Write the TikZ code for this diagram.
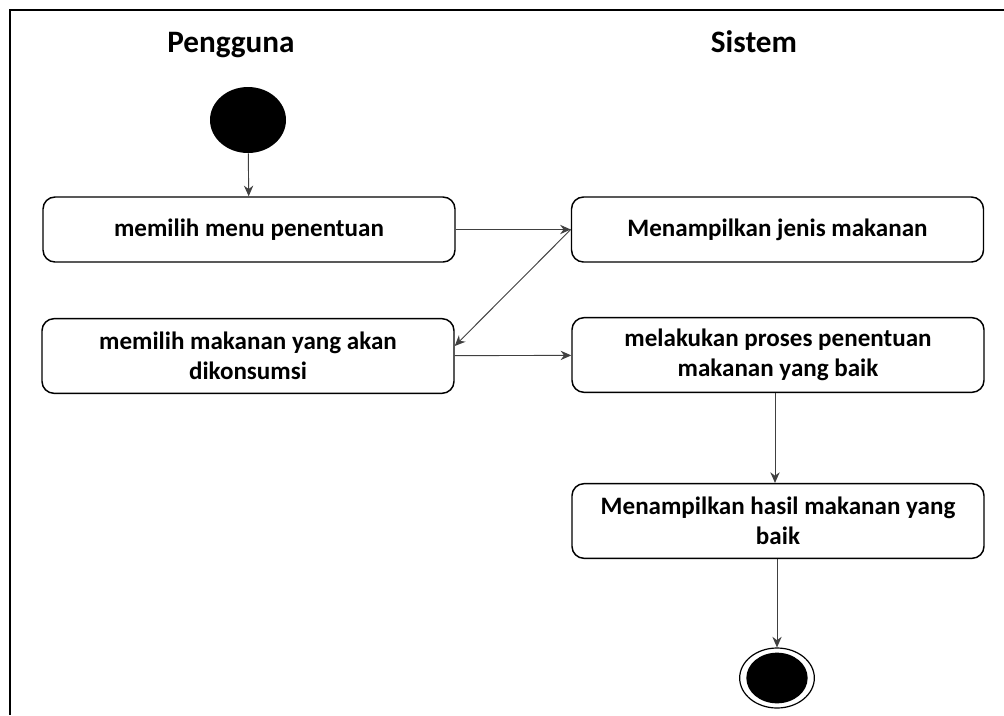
\documentclass[tikz,border=0pt]{standalone}
\usepackage{fontspec}
\setmainfont{Carlito}
\usetikzlibrary{arrows.meta,calc,shapes.geometric}
\begin{document}
\begin{tikzpicture}[x=0.75pt,y=-0.75pt,
  lane/.style={font=\fontsize{23.4}{28}\selectfont\bfseries, inner sep=0pt, anchor=base},
  act/.style={draw, line width=1.1pt, rounded corners=9pt, align=center,
    minimum width=309pt, inner sep=0pt,
    font=\fontsize{18.8}{22.5}\selectfont\bfseries},
  oneline/.style={act, minimum height=48.75pt},
  twoline/.style={act, minimum height=56pt},
  initial/.style={ellipse, fill=black, minimum width=57pt, minimum height=49.5pt, inner sep=0pt},
  finalring/.style={ellipse, draw, line width=0.9pt, minimum width=56pt, minimum height=45pt, inner sep=0pt},
  finalcore/.style={ellipse, fill=black, minimum width=46pt, minimum height=38pt, inner sep=0pt},
  flow/.style={draw=black!75, line width=0.7pt, -{Stealth[length=8pt,width=7pt]}}]
\useasboundingbox (0,0) rectangle (1004,715);

% frame of the swimlane diagram
\draw[line width=2pt] (1004,10) -- (10,10) -- (10,715);

% lane headings
\node[lane] (pengguna) at (231,52) {Pengguna};
\node[lane] (sistem) at (754,52) {Sistem};

% initial and final states
\node[initial] (start) at (248,120) {};
\node[finalring] (stop) at (777,678) {};
\node[finalcore] (stopcore) at (777,678) {};

% actions
\node[oneline] (a1) at (249,229.5) {memilih menu penentuan};
\node[twoline] (a2) at (248,356) {memilih makanan yang akan\\dikonsumsi};
\node[oneline] (b1) at (777.5,229.5) {Menampilkan jenis makanan};
\node[twoline] (b2) at (778,355) {melakukan proses penentuan\\makanan yang baik};
\node[twoline] (b3) at (778,521) {Menampilkan hasil makanan yang\\baik};

% control flow
\draw[flow] (start) -- (a1);
\draw[flow] (a1) -- (b1);
\draw[flow] (b1.west) -- ($(a2.east)+(0,-10)$);
\draw[flow] (a2) -- (b2);
\draw[flow] (b2.south -| b3.north) ++(-3,0) coordinate (b2out) -- (b2out |- b3.north);
\draw[flow] (b3.south -| stop.north) -- (stop.north);
\end{tikzpicture}
\end{document}
